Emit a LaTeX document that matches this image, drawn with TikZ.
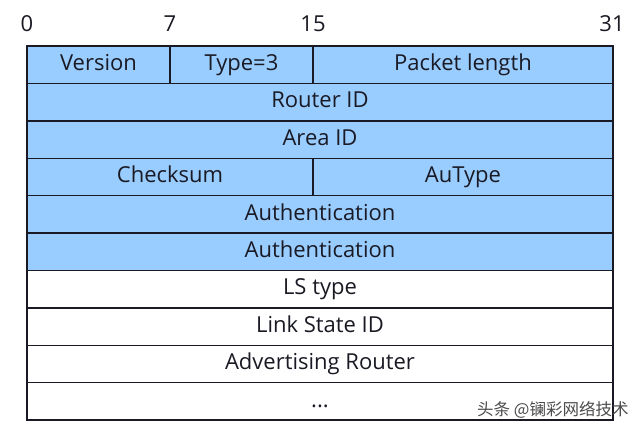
\documentclass[tikz,border=0pt]{standalone}
\usepackage{fontspec}
\setmainfont{Open Sans}
\newfontfamily\cjkfont{Noto Sans CJK SC}
\definecolor{fieldblue}{HTML}{99CCFF}
\definecolor{fieldline}{HTML}{1A1A24}
\begin{document}
\begin{tikzpicture}[x=1pt, y=-1pt,
    field/.style={draw=fieldline, line width=1.4pt, minimum height=37.4pt, inner sep=0pt,
        font=\fontsize{22}{25}\selectfont, text=fieldline,
        text height=1.15em, text depth=0em},
    blue/.style={field, fill=fieldblue},
    plain/.style={field, fill=white},
    bit/.style={font=\fontsize{22}{25}\selectfont, text=fieldline, inner sep=0pt}]
    \useasboundingbox[fill=white] (0,0) rectangle (640,428);
    % Bit numbers
    \node[bit] (b0) at (27,24) {0};
    \node[bit] (b7) at (170,24) {7};
    \node[bit] (b15) at (313,24) {15};
    \node[bit] (b31) at (612,24) {31};

    % Header part (blue)
    \node[blue, minimum width=143pt] (version) at (98.5,64.7) {Version};
    \node[blue, minimum width=143pt] (type) at (241.5,64.7) {Type=3};
    \node[blue, minimum width=300pt] (length) at (463,64.7) {Packet length};
    \node[blue, minimum width=586pt] (router) at (320,102.1) {Router ID};
    \node[blue, minimum width=586pt] (area) at (320,139.5) {Area ID};
    \node[blue, minimum width=286pt] (checksum) at (170,176.9) {Checksum};
    \node[blue, minimum width=300pt] (autype) at (463,176.9) {AuType};
    \node[blue, minimum width=586pt] (auth1) at (320,214.3) {Authentication};
    \node[blue, minimum width=586pt] (auth2) at (320,251.7) {Authentication};

    % LSA part (white)
    \node[plain, minimum width=586pt] (lstype) at (320,289.1) {LS type};
    \node[plain, minimum width=586pt] (lsid) at (320,326.5) {Link State ID};
    \node[plain, minimum width=586pt] (advrouter) at (320,363.9) {Advertising Router};
    \node[plain, minimum width=586pt] (more) at (320,401.3) {...};

    % Watermark
    \node[text=black!70, font=\cjkfont\fontsize{16.5}{18}\selectfont, anchor=west, inner sep=0pt]
        (mark) at (477,410) {头条 @镧彩网络技术};
\end{tikzpicture}
\end{document}
